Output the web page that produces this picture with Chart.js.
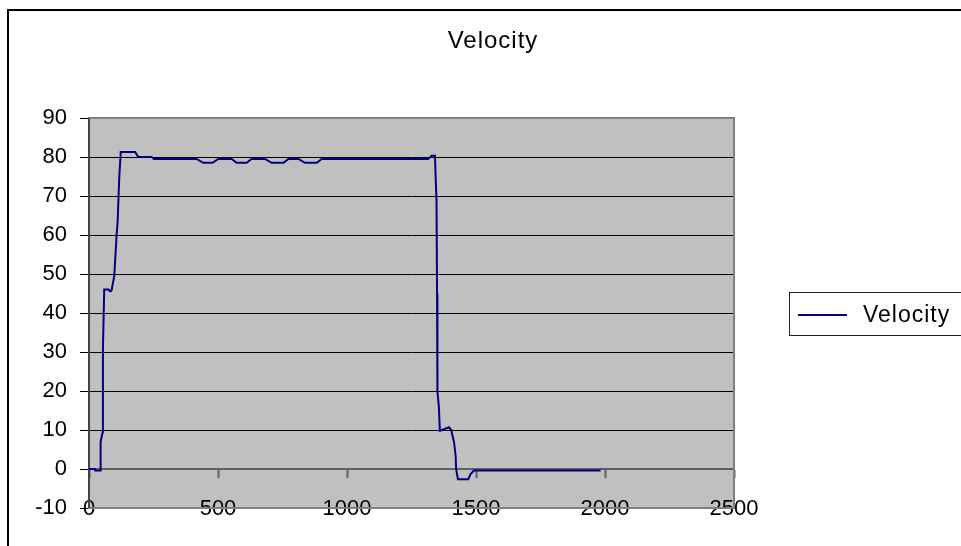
<!DOCTYPE html>
<html><head><meta charset="utf-8">
<script src="https://cdn.jsdelivr.net/npm/chart.js@4/dist/chart.umd.min.js"></script>
<style>html,body{margin:0;padding:0;background:#fff;overflow:hidden}#wrap{width:961px;height:546px;position:relative}</style>
</head><body><div id="wrap"><canvas id="c" width="961" height="546"></canvas></div>
<script>
const chartTitle = 'Velocity';
const seriesName = 'Velocity';
const timeValues = [0, 23, 24, 44, 45, 53, 54, 59, 77, 80, 85, 88, 98, 101, 107, 111, 117, 123, 179, 191, 243, 252, 417, 443, 479, 501, 553, 572, 611, 630, 682, 708, 754, 773, 812, 837, 883, 902, 1315, 1328, 1341, 1344, 1347, 1349, 1350, 1351, 1356, 1360, 1376, 1395, 1404, 1415, 1421, 1423, 1430, 1470, 1479, 1492, 1983];
const velocityValues = [0, 0, -0.4, -0.4, 7, 9.5, 30.8, 46, 46, 45.6, 45.6, 46, 49.6, 53, 60, 63.4, 74.4, 81.3, 81.3, 80, 80, 79.5, 79.5, 78.5, 78.5, 79.5, 79.5, 78.5, 78.5, 79.5, 79.5, 78.5, 78.5, 79.5, 79.5, 78.5, 78.5, 79.5, 79.5, 80.3, 80.3, 74, 69, 45, 33, 20, 16, 9.8, 10.2, 10.7, 10, 6.8, 3.4, 0, -2.6, -2.6, -1.3, -0.4, -0.4];
const xTickValues = [0, 500, 1000, 1500, 2000, 2500];
const yTickValues = [-10, 0, 10, 20, 30, 40, 50, 60, 70, 80, 90];

const FONT = '"Liberation Sans", Arial, sans-serif';

const decor = {
  id: 'decor',
  beforeDraw(chart) {
    const {ctx, chartArea: a} = chart;
    ctx.save();
    ctx.fillStyle = '#ffffff';
    ctx.fillRect(0, 0, chart.width, chart.height);
    ctx.strokeStyle = '#000000';
    ctx.lineWidth = 2;
    ctx.strokeRect(8, 10, chart.width + 40, chart.height + 40);
    ctx.fillStyle = '#c0c0c0';
    ctx.fillRect(a.left, a.top, a.right - a.left, a.bottom - a.top);
    ctx.restore();
  },
  beforeDatasetsDraw(chart) {
    const {ctx, chartArea: a} = chart;
    ctx.save();
    ctx.strokeStyle = '#808080';
    ctx.lineWidth = 2;
    ctx.strokeRect(a.left, a.top, a.right - a.left, a.bottom - a.top);
    ctx.strokeStyle = '#303030';
    ctx.lineWidth = 1.5;
    ctx.beginPath();
    ctx.moveTo(a.left, a.top);
    ctx.lineTo(a.left, a.bottom);
    ctx.stroke();
    ctx.restore();
  },
  afterDraw(chart) {
    const {ctx} = chart;
    ctx.save();
    ctx.fillStyle = '#000000';
    ctx.font = '24px ' + FONT;
    ctx.textAlign = 'center';
    ctx.textBaseline = 'alphabetic';
    try { ctx.letterSpacing = '1px'; } catch (e) {}
    ctx.fillText(chartTitle, 493, 48);
    // legend
    ctx.strokeStyle = '#202020';
    ctx.lineWidth = 1;
    ctx.strokeRect(789.5, 292.5, 300, 43);
    ctx.strokeStyle = chart.data.datasets[0].borderColor;
    ctx.lineWidth = 2;
    ctx.beginPath();
    ctx.moveTo(798, 315);
    ctx.lineTo(847, 315);
    ctx.stroke();
    ctx.font = '23px ' + FONT;
    ctx.textAlign = 'left';
    ctx.fillText(chart.data.datasets[0].label, 863, 322);
    ctx.restore();
  }
};

new Chart(document.getElementById('c'), {
  type: 'line',
  data: {
    datasets: [{
      label: seriesName,
      data: timeValues.map((t, i) => ({x: t, y: velocityValues[i]})),
      borderColor: '#000080',
      borderWidth: 2,
      pointRadius: 0,
      tension: 0,
      fill: false,
      xAxisID: 'x',
      yAxisID: 'y'
    }]
  },
  options: {
    responsive: false,
    animation: false,
    devicePixelRatio: 1,
    layout: {padding: {left: 29, top: 118, right: 227, bottom: 38}},
    plugins: {legend: {display: false}, title: {display: false}, tooltip: {enabled: false}},
    scales: {
      x: {
        type: 'linear', position: {y: -10}, min: 0, max: 2500,
        afterBuildTicks: s => { s.ticks = xTickValues.map(v => ({value: v})); },
        ticks: {font: {family: FONT, size: 22}, color: '#000', padding: -20, maxRotation: 0, autoSkip: false,
          callback: v => String(v)},
        grid: {display: false},
        border: {display: false}
      },
      x2: {
        type: 'linear', axis: 'x', position: {y: 0}, min: 0, max: 2500,
        afterBuildTicks: s => { s.ticks = xTickValues.map(v => ({value: v})); },
        ticks: {display: false},
        grid: {drawOnChartArea: false, drawTicks: true, tickLength: 8, tickColor: '#606060', tickWidth: 2},
        border: {display: true, color: '#606060', width: 2}
      },
      y: {
        type: 'linear', position: 'left', min: -10, max: 90,
        afterBuildTicks: s => { s.ticks = yTickValues.map(v => ({value: v})); },
        afterFit: s => { s.width = 60; },
        ticks: {font: {family: FONT, size: 22}, color: '#000', padding: 13, callback: v => String(v)},
        grid: {
          color: c => (c.tick && (c.tick.value === 90 || c.tick.value === -10 || c.tick.value === 0)) ? 'rgba(0,0,0,0)' : '#000000',
          lineWidth: 1,
          drawTicks: true, tickLength: 9, tickColor: '#000000', tickWidth: 1
        },
        border: {display: false}
      }
    }
  },
  plugins: [decor]
});
</script>
</body></html>
